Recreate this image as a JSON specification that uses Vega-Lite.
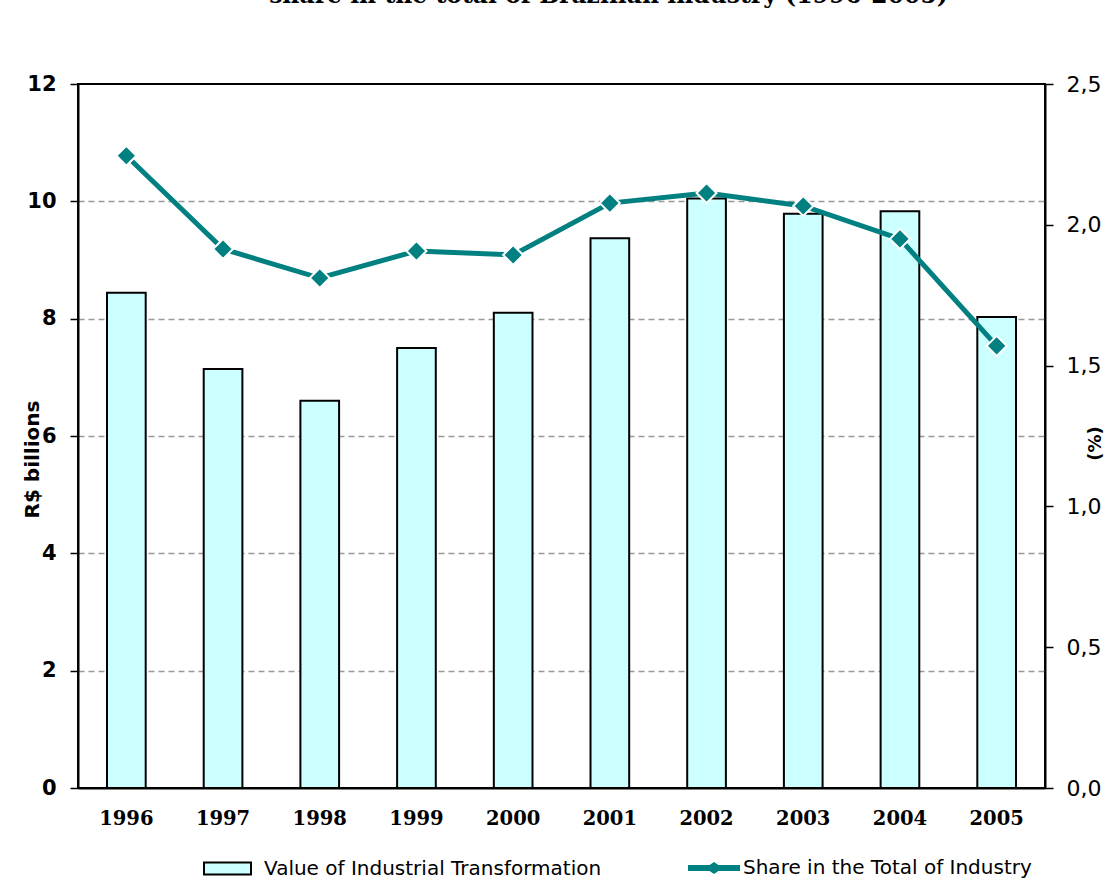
{
  "$schema": "https://vega.github.io/schema/vega-lite/v6.json",
  "width": 967,
  "height": 704,
  "autosize": {"type": "none"},
  "padding": {"left": 78, "top": 84, "right": 59, "bottom": 91},
  "background": "white",
  "title": {
    "text": "share in the total of Brazilian industry (1996-2005)",
    "font": "DejaVu Serif",
    "fontSize": 23.5,
    "fontWeight": "bold",
    "color": "black",
    "anchor": "middle",
    "frame": "group",
    "baseline": "alphabetic",
    "dx": 47,
    "offset": 47
  },
  "data": {
    "values": [
      {"year": "1996", "value": 8.44, "share": 2.245},
      {"year": "1997", "value": 7.14, "share": 1.914},
      {"year": "1998", "value": 6.60, "share": 1.811},
      {"year": "1999", "value": 7.50, "share": 1.907},
      {"year": "2000", "value": 8.10, "share": 1.893},
      {"year": "2001", "value": 9.37, "share": 2.077},
      {"year": "2002", "value": 10.05, "share": 2.113},
      {"year": "2003", "value": 9.79, "share": 2.067},
      {"year": "2004", "value": 9.83, "share": 1.950},
      {"year": "2005", "value": 8.03, "share": 1.570}
    ]
  },
  "encoding": {
    "x": {
      "field": "year",
      "type": "ordinal",
      "scale": {"paddingInner": 0.6, "paddingOuter": 0.3},
      "axis": {
        "title": null,
        "labelAngle": 0,
        "labelFont": "DejaVu Serif",
        "labelFontSize": 19.5,
        "labelFontWeight": "bold",
        "labelColor": "black",
        "labelPadding": 21,
        "ticks": false,
        "domainColor": "black",
        "domainWidth": 2
      }
    }
  },
  "layer": [
    {
      "mark": {"type": "bar", "stroke": "black", "strokeWidth": 2},
      "encoding": {
        "y": {
          "field": "value",
          "type": "quantitative",
          "scale": {"domain": [0, 12], "nice": false},
          "axis": {
            "orient": "left",
            "values": [0, 2, 4, 6, 8, 10, 12],
            "title": "R$ billions",
            "titleFont": "DejaVu Sans",
            "titleFontSize": 20,
            "titleFontWeight": "bold",
            "titleColor": "black",
            "titleAngle": -90,
            "titleAlign": "center",
            "titleBaseline": "middle",
            "titleX": -46,
            "titleY": 375,
            "labelFont": "DejaVu Sans",
            "labelFontSize": 21,
            "labelFontWeight": "bold",
            "labelColor": "black",
            "labelPadding": 14,
            "tickSize": 8,
            "tickColor": "black",
            "tickWidth": 1.5,
            "domainColor": "black",
            "domainWidth": 2,
            "grid": true,
            "gridColor": "#999999",
            "gridDash": [6, 4],
            "gridWidth": 1.5,
            "gridOpacity": {
              "condition": {"test": "datum.value === 0 || datum.value === 12", "value": 0},
              "value": 1
            }
          }
        },
        "fill": {
          "datum": "Value of Industrial Transformation",
          "type": "nominal",
          "scale": {"range": ["#CCFFFF"]},
          "legend": {
            "title": null,
            "orient": "none",
            "legendX": 125,
            "legendY": 760,
            "symbolType": "M-1,-0.26H1V0.26H-1Z",
            "symbolSize": 2209,
            "symbolStrokeColor": "black",
            "symbolStrokeWidth": 2,
            "labelFont": "DejaVu Sans",
            "labelFontSize": 20,
            "labelColor": "black",
            "labelOffset": 12,
            "labelLimit": 0
          }
        }
      }
    },
    {
      "layer": [
        {
          "mark": {"type": "line", "strokeWidth": 5},
          "encoding": {
            "y": {
              "field": "share",
              "type": "quantitative",
              "scale": {"domain": [0, 2.5], "nice": false},
              "axis": {
                "orient": "right",
                "values": [0, 0.5, 1, 1.5, 2, 2.5],
                "labelExpr": "replace(format(datum.value, '.1f'), '.', ',')",
                "title": "(%)",
                "titleFont": "DejaVu Sans",
                "titleFontSize": 18,
                "titleFontWeight": "bold",
                "titleColor": "black",
                "titleAngle": -90,
                "titleAlign": "center",
                "titleBaseline": "middle",
                "titleX": 50,
                "titleY": 359,
                "labelFont": "DejaVu Sans",
                "labelFontSize": 22,
                "labelColor": "black",
                "labelPadding": 13,
                "tickSize": 8,
                "tickColor": "black",
                "tickWidth": 1.5,
                "domainColor": "black",
                "domainWidth": 2,
                "grid": false
              }
            },
            "stroke": {
              "datum": "Share in the Total of Industry",
              "type": "nominal",
              "scale": {"range": ["#008080"]},
              "legend": {
                "title": null,
                "orient": "none",
                "legendX": 610,
                "legendY": 758,
                "symbolType": "M-1,-0.115H-0.17L0,-0.23L0.17,-0.115H1V0.115H0.17L0,0.23L-0.17,0.115H-1Z",
                "symbolSize": 2704,
                "labelFont": "DejaVu Sans",
                "labelFontSize": 20,
                "labelColor": "black",
                "labelOffset": 3,
                "labelLimit": 0,
                "encode": {
                  "symbols": {
                    "update": {
                      "fill": {"value": "#008080"},
                      "strokeWidth": {"value": 0}
                    }
                  }
                }
              }
            }
          }
        },
        {
          "mark": {
            "type": "point",
            "shape": "diamond",
            "size": 400,
            "filled": true,
            "fill": "#008080",
            "stroke": "white",
            "strokeWidth": 2,
            "opacity": 1
          },
          "encoding": {
            "y": {"field": "share", "type": "quantitative"}
          }
        }
      ]
    }
  ],
  "resolve": {"scale": {"y": "independent"}},
  "config": {
    "view": {"stroke": "black", "strokeWidth": 2}
  }
}
